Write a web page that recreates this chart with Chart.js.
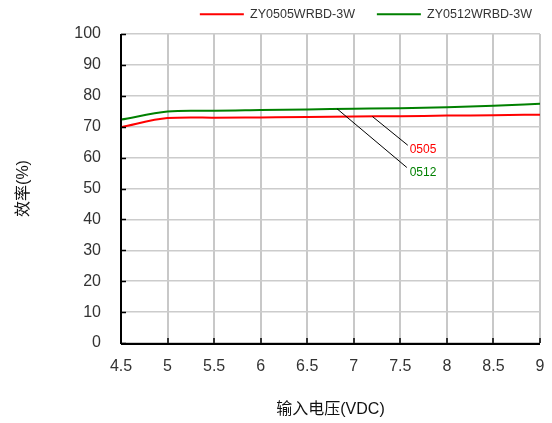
<!DOCTYPE html>
<html><head><meta charset="utf-8">
<script src="https://cdn.jsdelivr.net/npm/chart.js@4"></script>
<style>html,body{margin:0;padding:0;background:#fff}#wrap{width:552px;height:423px}</style>
</head><body><div id="wrap"><canvas id="c" width="552" height="423"></canvas></div>
<script>
const voltages = [4.5, 5, 5.25, 5.5, 6, 6.5, 7, 7.5, 8, 8.5, 9];
const eff0505 = [69.8, 72.8, 73.0, 72.9, 73.0, 73.1, 73.3, 73.4, 73.6, 73.7, 73.9];
const eff0512 = [72.3, 74.9, 75.2, 75.2, 75.4, 75.6, 75.8, 76.0, 76.3, 76.8, 77.4];
const seriesNames = ['ZY0505WRBD-3W', 'ZY0512WRBD-3W'];
const xTicks = [4.5, 5, 5.5, 6, 6.5, 7, 7.5, 8, 8.5, 9];
const yTicks = [0, 10, 20, 30, 40, 50, 60, 70, 80, 90, 100];
// annotation leaders: [startX, startY, endX, endY, labelX, labelY, text, color]
const notes = [
  [7.2, 73.3, 7.58, 64.0, 7.6, 62.7, '0505', '#ff0000'],
  [6.82, 75.8, 7.57, 56.8, 7.6, 55.2, '0512', '#008000']
];

const FONT = "'Liberation Sans', Arial, sans-serif";
const toPts = (ys) => voltages.map((v, i) => ({x: v, y: ys[i]}));

const legendFix = {
  id: 'legendFix',
  afterInit(chart) {
    const lg = chart.legend;
    if (lg && !lg._fixed) {
      const f = lg.fit;
      lg.fit = function() { f.call(this); this.height = 34; };
      lg._fixed = true;
    }
  }
};

const decor = {
  id: 'decor',
  afterDatasetsDraw(chart) {
    const {ctx, scales: {x, y}, chartArea: a} = chart;
    ctx.save();
    ctx.strokeStyle = '#000'; ctx.lineWidth = 1.5;
    ctx.beginPath();
    yTicks.forEach(t => { const py = Math.round(y.getPixelForValue(t)) + 0.5; ctx.moveTo(a.left, py); ctx.lineTo(a.left + 5, py); });
    xTicks.forEach(t => { const px = Math.round(x.getPixelForValue(t)); ctx.moveTo(px, a.bottom); ctx.lineTo(px, a.bottom - 5); });
    ctx.stroke();
    ctx.lineWidth = 2;
    ctx.beginPath();
    ctx.moveTo(Math.round(a.left), a.top); ctx.lineTo(Math.round(a.left), Math.round(a.bottom) + 1);
    ctx.moveTo(Math.round(a.left), Math.round(a.bottom) + 1); ctx.lineTo(a.right, Math.round(a.bottom) + 1);
    ctx.stroke();
    notes.forEach(n => {
      ctx.strokeStyle = '#000'; ctx.lineWidth = 1;
      ctx.beginPath();
      ctx.moveTo(x.getPixelForValue(n[0]), y.getPixelForValue(n[1]));
      ctx.lineTo(x.getPixelForValue(n[2]), y.getPixelForValue(n[3]));
      ctx.stroke();
      ctx.fillStyle = n[7];
      ctx.font = '12px ' + FONT;
      ctx.textBaseline = 'middle'; ctx.textAlign = 'left';
      ctx.fillText(n[6], x.getPixelForValue(n[4]), y.getPixelForValue(n[5]));
    });
    ctx.restore();
  }
};

new Chart(document.getElementById('c'), {
  type: 'line',
  data: {
    datasets: [
      {label: seriesNames[0], data: toPts(eff0505), borderColor: '#ff0000', backgroundColor: '#ff0000', borderWidth: 2, pointRadius: 0, tension: 0.3, cubicInterpolationMode: 'monotone'},
      {label: seriesNames[1], data: toPts(eff0512), borderColor: '#008000', backgroundColor: '#008000', borderWidth: 2, pointRadius: 0, tension: 0.3, cubicInterpolationMode: 'monotone'}
    ]
  },
  options: {
    responsive: false, animation: false,
    layout: {padding: {left: 0, right: 12, top: 0, bottom: 0}},
    plugins: {
      tooltip: {enabled: false},
      legend: {
        position: 'top', align: 'end',
        labels: {
          boxWidth: 44, boxHeight: 2, padding: 8, color: '#333', font: {family: FONT, size: 12.5},
          generateLabels: (chart) => Chart.defaults.plugins.legend.labels.generateLabels(chart).map((l, i, arr) => {
            l.lineWidth = 0;
            if (i < arr.length - 1) l.text = l.text + '    ';
            return l;
          })
        }
      }
    },
    scales: {
      x: {
        type: 'linear', min: 4.5, max: 9,
        afterBuildTicks: s => { s.ticks = xTicks.map(v => ({value: v})); },
        afterFit: s => { s.height = 80; s.paddingRight = 0; s.paddingLeft = 0; },
        grid: {color: '#c8c8c8', lineWidth: 2, drawTicks: false},
        border: {display: false},
        ticks: {color: '#333', padding: 14, maxRotation: 0, autoSkip: false, font: {family: FONT, size: 16}, callback: v => String(v)},
        title: {display: true, text: '输入电压(VDC)', color: '#111', padding: {top: 31}, font: {family: FONT + ", 'Noto Sans CJK SC'", size: 16}}
      },
      y: {
        min: 0, max: 100,
        afterBuildTicks: s => { s.ticks = yTicks.map(v => ({value: v})); },
        afterFit: s => { s.width = 121; },
        grid: {color: '#cccccc', lineWidth: 1.5, drawTicks: false},
        border: {display: false},
        ticks: {color: '#333', padding: 20, font: {family: FONT, size: 16}},
        title: {display: true, text: '效率(%)', color: '#111', padding: {top: 14, bottom: 0}, font: {family: FONT + ", 'Noto Sans CJK SC'", size: 16}}
      }
    }
  },
  plugins: [legendFix, decor]
});
</script></body></html>
